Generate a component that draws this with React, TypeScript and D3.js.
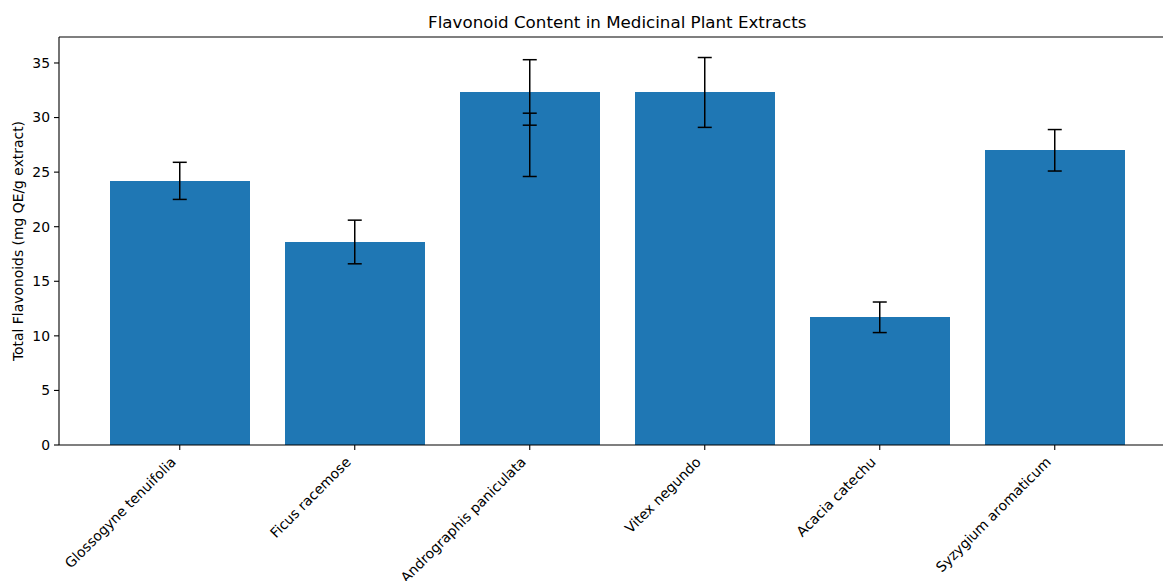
import React from "react";
import * as d3 from "d3";

const categories = [
  "Glossogyne tenuifolia",
  "Ficus racemose",
  "Andrographis paniculata",
  "Andrographis paniculata",
  "Vitex negundo",
  "Acacia catechu",
  "Syzygium aromaticum",
];
const values = [24.2, 18.6, 32.3, 27.5, 32.3, 11.7, 27.0];
const errors = [1.7, 2.0, 3.0, 2.9, 3.2, 1.4, 1.9];
const yTicks = [0, 5, 10, 15, 20, 25, 30, 35];

const W = 1163;
const H = 581;
const left = 59;
const top = 37;
const bottom = 445;
const unique = Array.from(new Set(categories));
const n = unique.length;

export default function App() {
  const x = d3.scaleLinear().domain([-0.69, n - 1 + 0.69]).range([left, left + 175 * (n - 1 + 1.38)]);
  const y = d3.scaleLinear().domain([0, 37.38]).range([bottom, top]);
  const right = x.range()[1];
  const bw = x(0.4) - x(-0.4);
  const font = "'DejaVu Sans', sans-serif";
  const idx = (c: string) => unique.indexOf(c);
  const cap = 7;
  return (
    <svg width={W} height={H} style={{ position: "absolute", left: 0, top: 0, overflow: "hidden" }} fontFamily={font}>
      <rect x={0} y={0} width={W} height={H} fill="#fff" />
      <text x={(left + right) / 2} y={28} textAnchor="middle" fontSize={16.7} fill="#000">
        Flavonoid Content in Medicinal Plant Extracts
      </text>
      {categories.map((c, i) => (
        <rect
          key={"b" + i}
          x={x(idx(c)) - bw / 2}
          y={y(values[i])}
          width={bw}
          height={y(0) - y(values[i])}
          fill="#1f77b4"
          shapeRendering="crispEdges"
        />
      ))}
      {categories.map((c, i) => {
        const cx = x(idx(c));
        const y1 = y(values[i] + errors[i]);
        const y0 = y(values[i] - errors[i]);
        return (
          <g key={"e" + i} stroke="#000" strokeWidth={1.5}>
            <line x1={cx} x2={cx} y1={y1} y2={y0} />
            <line x1={cx - cap} x2={cx + cap} y1={y1} y2={y1} />
            <line x1={cx - cap} x2={cx + cap} y1={y0} y2={y0} />
          </g>
        );
      })}
      {/* spines */}
      <line x1={left} x2={left} y1={top} y2={bottom} stroke="#000" strokeWidth={1.1} />
      <line x1={left} x2={right} y1={top} y2={top} stroke="#000" strokeWidth={1.1} />
      <line x1={left} x2={right} y1={bottom} y2={bottom} stroke="#000" strokeWidth={1.1} />
      <line x1={right} x2={right} y1={top} y2={bottom} stroke="#000" strokeWidth={1.1} />
      {yTicks.map((t) => (
        <g key={"y" + t}>
          <line x1={left - 5} x2={left} y1={y(t)} y2={y(t)} stroke="#000" strokeWidth={1.1} />
          <text x={left - 9} y={y(t)} dy="0.35em" textAnchor="end" fontSize={13.9} fill="#000">
            {t}
          </text>
        </g>
      ))}
      {unique.map((c, i) => {
        const cx = x(i);
        return (
          <g key={"x" + i}>
            <line x1={cx} x2={cx} y1={bottom} y2={bottom + 5} stroke="#000" strokeWidth={1.1} />
            <text
              transform={`translate(${cx - 3},${bottom + 18}) rotate(-45)`}
              textAnchor="end"
              fontSize={13.9}
              fill="#000"
            >
              {c}
            </text>
          </g>
        );
      })}
      <text transform={`translate(23,${(top + bottom) / 2}) rotate(-90)`} textAnchor="middle" fontSize={13.9} fill="#000">
        Total Flavonoids (mg QE/g extract)
      </text>
    </svg>
  );
}
